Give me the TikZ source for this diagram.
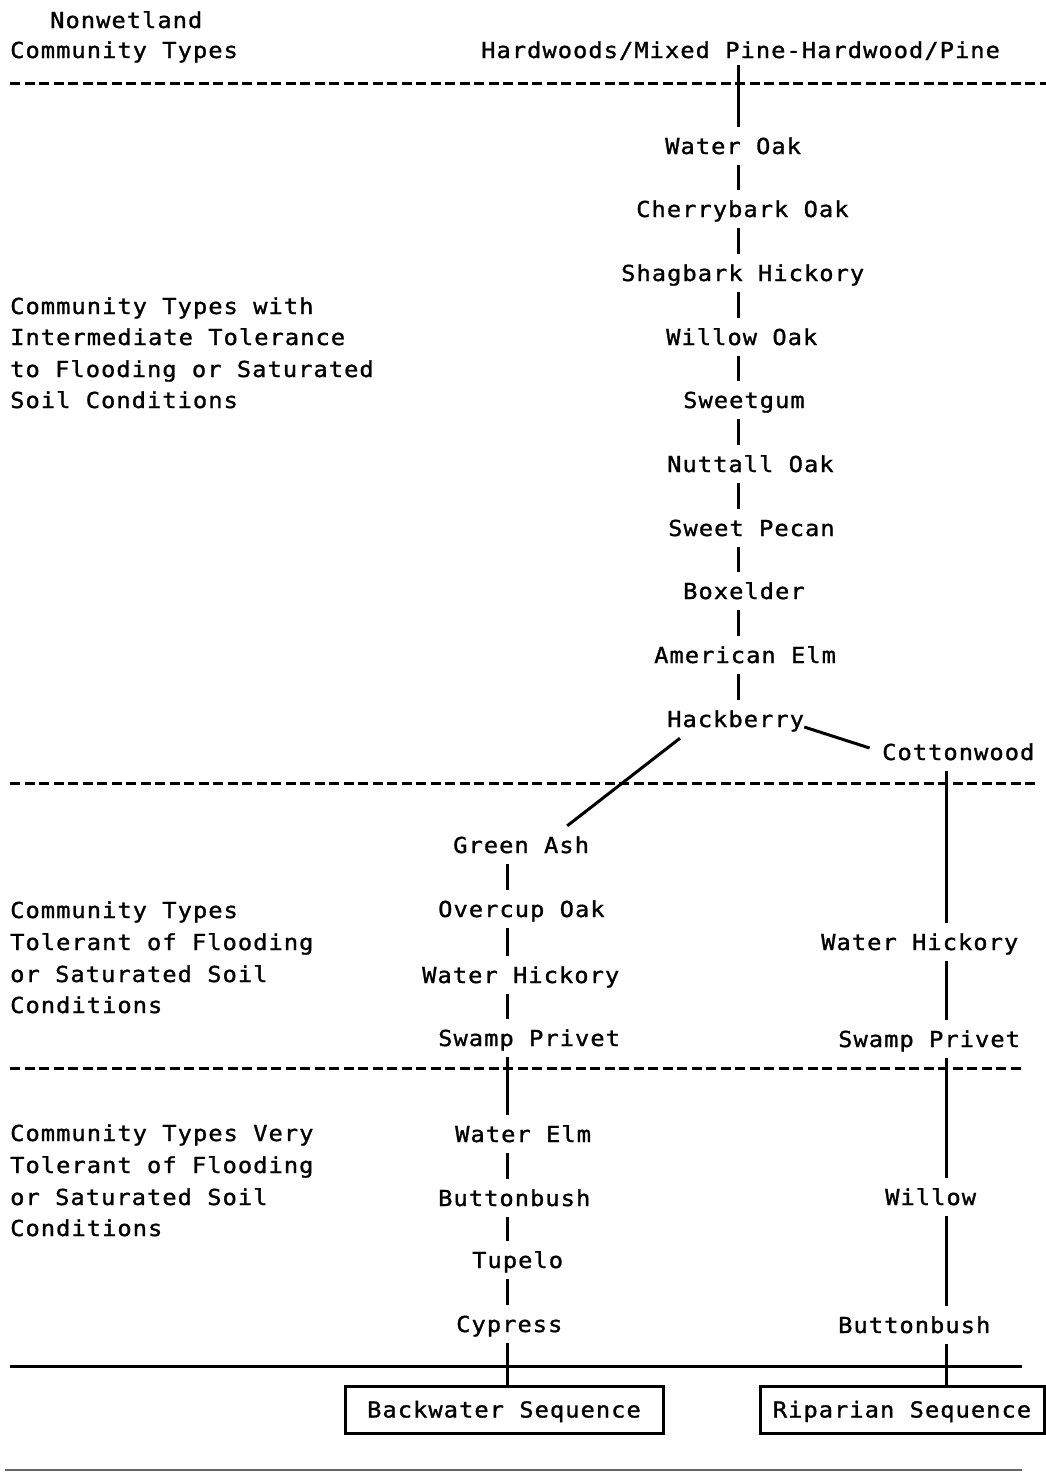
\documentclass[tikz,border=0pt]{standalone}
\usepackage{fontspec}
\newfontfamily\monofnt[LetterSpace=4.6,FakeStretch=1.08,FakeBold=1.2]{DejaVu Sans Mono}
\begin{document}
\begin{tikzpicture}[x=1pt,y=-1pt,
  txt/.style={font=\monofnt\fontsize{22}{31.5}\selectfont, inner xsep=0pt, inner ysep=11pt,
    text height=16pt, text depth=0pt, anchor=base west},
  conn/.style={line width=3pt, black},
  sep/.style={line width=3pt, dash pattern=on 10pt off 4.5pt},
  seqbox/.style={font=\monofnt\fontsize{22}{31.5}\selectfont, draw, line width=3pt,
    text height=16pt, text depth=0pt, minimum height=47pt, inner xsep=4pt}]
\fill[white] (0,0) rectangle (1046,1473);
\useasboundingbox (0,0) rectangle (1046,1473);

% spine x positions
\coordinate (cx) at (738,0);
\coordinate (lx) at (507,0);
\coordinate (rx) at (946,0);

% left-hand labels
\node[txt] (n1) at (50,28) {Nonwetland};
\node[txt] (n2) at (10,58) {Community Types};
\node[txt] (a1) at (10,314) {Community Types with};
\node[txt] (a2) at (10,345) {Intermediate Tolerance};
\node[txt] (a3) at (10,377) {to Flooding or Saturated};
\node[txt] (a4) at (10,408) {Soil Conditions};
\node[txt] (b1) at (10,918) {Community Types};
\node[txt] (b2) at (10,950) {Tolerant of Flooding};
\node[txt] (b3) at (10,982) {or Saturated Soil};
\node[txt] (b4) at (10,1013) {Conditions};
\node[txt] (c1) at (10,1141) {Community Types Very};
\node[txt] (c2) at (10,1173) {Tolerant of Flooding};
\node[txt] (c3) at (10,1205) {or Saturated Soil};
\node[txt] (c4) at (10,1236) {Conditions};

% separators
\draw[sep] (10,83) -- (1046,83);
\draw[sep] (10,783) -- (1035,783);
\draw[sep] (10,1068) -- (1022,1068);
\draw[line width=3pt] (10,1366) -- (1022,1366);
\draw[line width=2pt, black!60] (5,1470) -- (1022,1470);

% species
\node[txt,inner ysep=7pt] (hw) at (481,58) {Hardwoods/Mixed Pine-Hardwood/Pine};
\node[txt] (wo) at (665,154) {Water Oak};
\node[txt] (cb) at (636,217) {Cherrybark Oak};
\node[txt] (sh) at (621,281) {Shagbark Hickory};
\node[txt] (wl) at (666,345) {Willow Oak};
\node[txt] (sg) at (683,408) {Sweetgum};
\node[txt] (nu) at (667,472) {Nuttall Oak};
\node[txt] (pe) at (668,536) {Sweet Pecan};
\node[txt] (bx) at (683,599) {Boxelder};
\node[txt] (ae) at (654,663) {American Elm};
\node[txt] (hb) at (667,727) {Hackberry};
\node[txt] (cw) at (882,760) {Cottonwood};

\node[txt] (ga) at (453,853) {Green Ash};
\node[txt] (oc) at (438,917) {Overcup Oak};
\node[txt] (whl) at (422,983) {Water Hickory};
\node[txt] (spl) at (438,1046) {Swamp Privet};
\node[txt] (we) at (455,1142) {Water Elm};
\node[txt] (bbl) at (438,1206) {Buttonbush};
\node[txt] (tu) at (472,1268) {Tupelo};
\node[txt] (cy) at (456,1332) {Cypress};

\node[txt] (whr) at (821,950) {Water Hickory};
\node[txt] (spr) at (838,1047) {Swamp Privet};
\node[txt] (wi) at (885,1205) {Willow};
\node[txt] (bbr) at (838,1333) {Buttonbush};

\node[seqbox, minimum width=318pt] (bw) at (504,1409.5) {Backwater Sequence};
\node[seqbox, minimum width=284pt] (rp) at (902,1409.5) {Riparian Sequence};

% connectors: central column
\draw[conn] (hw.south -| cx) -- (wo.north -| cx);
\draw[conn] (wo.south -| cx) -- (cb.north -| cx);
\draw[conn] (cb.south -| cx) -- (sh.north -| cx);
\draw[conn] (sh.south -| cx) -- (wl.north -| cx);
\draw[conn] (wl.south -| cx) -- (sg.north -| cx);
\draw[conn] (sg.south -| cx) -- (nu.north -| cx);
\draw[conn] (nu.south -| cx) -- (pe.north -| cx);
\draw[conn] (pe.south -| cx) -- (bx.north -| cx);
\draw[conn] (bx.south -| cx) -- (ae.north -| cx);
\draw[conn] (ae.south -| cx) -- (hb.north -| cx);
\draw[conn, shorten >=13pt] (hb.base east) -- (cw.west);
\draw[conn] ([xshift=13pt]hb.south west) -- ([xshift=-22pt]ga.north east);

% left (backwater) column
\draw[conn] (ga.south -| lx) -- (oc.north -| lx);
\draw[conn] (oc.south -| lx) -- (whl.north -| lx);
\draw[conn] (whl.south -| lx) -- (spl.north -| lx);
\draw[conn] (spl.south -| lx) -- (we.north -| lx);
\draw[conn] (we.south -| lx) -- (bbl.north -| lx);
\draw[conn] (bbl.south -| lx) -- (tu.north -| lx);
\draw[conn] (tu.south -| lx) -- (cy.north -| lx);
\draw[conn] (cy.south -| lx) -- (bw.north -| lx);

% right (riparian) column
\draw[conn] (cw.south -| rx) -- (whr.north -| rx);
\draw[conn] (whr.south -| rx) -- (spr.north -| rx);
\draw[conn] (spr.south -| rx) -- (wi.north -| rx);
\draw[conn] (wi.south -| rx) -- (bbr.north -| rx);
\draw[conn] (bbr.south -| rx) -- (rp.north -| rx);
\end{tikzpicture}
\end{document}
